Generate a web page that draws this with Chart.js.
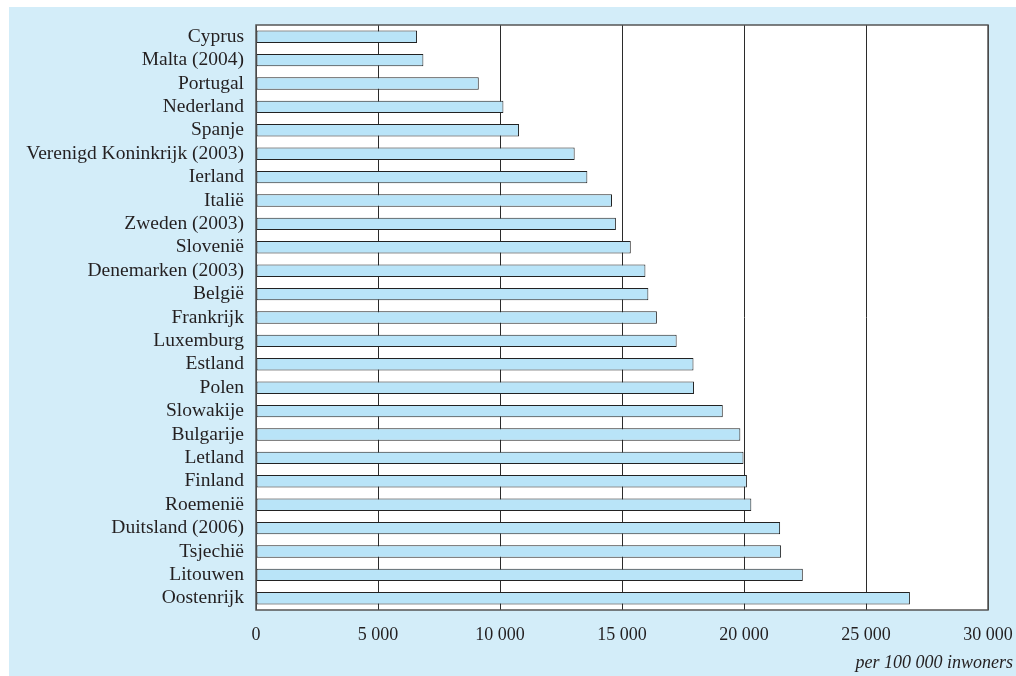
<!DOCTYPE html>
<html>
<head>
<meta charset="utf-8">
<script src="https://cdn.jsdelivr.net/npm/chart.js@4"></script>
<style>
  body { margin: 0; background: #fff; }
  #wrap { position: absolute; left: 9px; top: 7px; width: 1007px; height: 669px; background: #d3edf9; }
</style>
</head>
<body>
<div id="wrap"><canvas id="myChart" width="1007" height="669"></canvas></div>
<script>
var landen = [
    "Cyprus", "Malta (2004)", "Portugal", "Nederland", "Spanje",
    "Verenigd Koninkrijk (2003)", "Ierland", "Italië", "Zweden (2003)", "Slovenië",
    "Denemarken (2003)", "België", "Frankrijk", "Luxemburg", "Estland",
    "Polen", "Slowakije", "Bulgarije", "Letland", "Finland",
    "Roemenië", "Duitsland (2006)", "Tsjechië", "Litouwen", "Oostenrijk"
];
var waarden = [
    6600, 6860, 9130, 10140, 10780,
    13060, 13580, 14590, 14750, 15360,
    15960, 16080, 16430, 17240, 17930,
    17950, 19130, 19850, 19980, 20120,
    20300, 21480, 21520, 22410, 26800
];
var xTicks = [0, 5000, 10000, 15000, 20000, 25000, 30000];
var eenheid = "per 100 000 inwoners";

var serif = "'Liberation Serif', 'DejaVu Serif', serif";

// witte plotachtergrond, rand en eenheid rechtsonder
var plotBox = {
    id: 'plotBox',
    beforeDraw: function (chart) {
        var a = chart.chartArea, c = chart.ctx;
        c.save();
        c.fillStyle = '#ffffff';
        c.fillRect(a.left, a.top, a.right - a.left, a.bottom - a.top);
        c.restore();
    },
    afterDraw: function (chart) {
        var a = chart.chartArea, c = chart.ctx;
        c.save();
        c.strokeStyle = '#555';
        c.lineWidth = 1.5;
        c.strokeRect(a.left, a.top, a.right - a.left, a.bottom - a.top);
        c.fillStyle = '#231f20';
        c.font = "italic 18px " + serif;
        c.textAlign = 'right';
        c.textBaseline = 'middle';
        c.fillText(eenheid, chart.width - 3, 656);
        c.restore();
    }
};

var ctx = document.getElementById("myChart");
var myChart = new Chart(ctx, {
    type: 'bar',
    data: {
        labels: landen,
        datasets: [{
            data: waarden,
            backgroundColor: '#b9e4f8',
            borderColor: '#222',
            borderWidth: 1,
            borderSkipped: false,
            categoryPercentage: 1,
            barPercentage: 0.53
        }]
    },
    options: {
        indexAxis: 'y',
        responsive: false,
        animation: false,
        layout: { padding: { top: 18, right: 28, left: 0, bottom: 0 } },
        plugins: { legend: { display: false }, tooltip: { enabled: false } },
        scales: {
            x: {
                min: 0, max: 30000,
                afterBuildTicks: function (scale) {
                    scale.ticks = xTicks.map(function (v) { return { value: v }; });
                },
                afterFit: function (scale) {
                    scale.height = 66;
                    scale.paddingLeft = 0;
                    scale.paddingRight = 0;
                },
                grid: { color: '#2b2b2b', lineWidth: 1, drawTicks: false },
                border: { display: false },
                ticks: {
                    padding: 14,
                    color: '#231f20',
                    font: { family: serif, size: 18 },
                    maxRotation: 0,
                    callback: function (v) { return String(v).replace(/\B(?=(\d{3})+(?!\d))/g, ' '); }
                }
            },
            y: {
                afterFit: function (scale) {
                    scale.width = 247;
                    scale.paddingTop = 0;
                    scale.paddingBottom = 0;
                },
                grid: { display: false, drawTicks: false },
                border: { display: false },
                ticks: {
                    padding: 12,
                    color: '#231f20',
                    autoSkip: false,
                    font: { family: serif, size: 19.5 }
                }
            }
        }
    },
    plugins: [plotBox]
});
</script>
</body>
</html>
